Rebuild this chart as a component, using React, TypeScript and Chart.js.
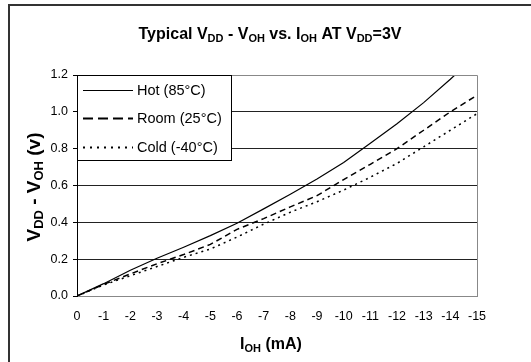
import React, { useEffect, useRef } from "react";
import { Chart, registerables } from "chart.js";

Chart.register(...registerables);

const currents = [0, 1, 2, 3, 4, 5, 6, 7, 8, 9, 10, 11, 12, 13, 14, 15];
const hot = [0, 0.067, 0.14, 0.205, 0.265, 0.328, 0.395, 0.473, 0.553, 0.635, 0.725, 0.83, 0.935, 1.05, 1.177, 1.31];
const room = [0, 0.063, 0.12, 0.175, 0.225, 0.28, 0.362, 0.42, 0.484, 0.545, 0.632, 0.715, 0.8, 0.9, 1.0, 1.09];
const cold = [0, 0.06, 0.11, 0.16, 0.21, 0.255, 0.32, 0.39, 0.455, 0.512, 0.575, 0.645, 0.72, 0.81, 0.9, 0.99];
const seriesNames = ["Hot (85°C)", "Room (25°C)", "Cold (-40°C)"];
const yTicks = [0, 0.2, 0.4, 0.6, 0.8, 1.0, 1.2];

const FONT = "'Liberation Sans', Arial, sans-serif";

type Seg = { t: string; sub?: boolean };

const titleSegs: Seg[] = [
  { t: "Typical V" }, { t: "DD", sub: true }, { t: " - V" }, { t: "OH", sub: true },
  { t: " vs. I" }, { t: "OH", sub: true }, { t: " AT V" }, { t: "DD", sub: true }, { t: "=3V" },
];
const yTitleSegs: Seg[] = [
  { t: "V" }, { t: "DD", sub: true }, { t: " - V" }, { t: "OH", sub: true }, { t: " (v)" },
];
const xTitleSegs: Seg[] = [{ t: "I" }, { t: "OH", sub: true }, { t: " (mA)" }];

function drawRich(ctx: CanvasRenderingContext2D, segs: Seg[], cx: number, baseY: number, size: number, subSize: number, subDrop: number) {
  const main = `bold ${size}px ${FONT}`;
  const sub = `bold ${subSize}px ${FONT}`;
  let total = 0;
  for (const s of segs) {
    ctx.font = s.sub ? sub : main;
    total += ctx.measureText(s.t).width;
  }
  let x = cx - total / 2;
  ctx.textAlign = "left";
  ctx.textBaseline = "alphabetic";
  ctx.fillStyle = "#000";
  for (const s of segs) {
    ctx.font = s.sub ? sub : main;
    ctx.fillText(s.t, x, s.sub ? baseY + subDrop : baseY);
    x += ctx.measureText(s.t).width;
  }
}

const decorPlugin = {
  id: "decor",
  beforeDraw(chart: any) {
    const ctx = chart.ctx as CanvasRenderingContext2D;
    ctx.save();
    ctx.fillStyle = "#fff";
    ctx.fillRect(0, 0, chart.width, chart.height);
    ctx.strokeStyle = "#333";
    ctx.lineWidth = 2;
    ctx.strokeRect(9, 5, 700, 500);
    ctx.restore();
  },
  afterDatasetsDraw(chart: any) {
    const ctx = chart.ctx as CanvasRenderingContext2D;
    const a = chart.chartArea;
    ctx.save();
    // plot border (right / top)
    ctx.strokeStyle = "#888";
    ctx.lineWidth = 1;
    ctx.beginPath();
    ctx.moveTo(a.left, a.top + 0.5);
    ctx.lineTo(a.right + 0.5, a.top + 0.5);
    ctx.lineTo(a.right + 0.5, a.bottom);
    ctx.stroke();

    // legend
    const lx = a.left + 0.5, ly = a.top + 0.5, lw = 154, lh = 85;
    ctx.fillStyle = "#fff";
    ctx.fillRect(lx, ly, lw, lh);
    ctx.strokeStyle = "#000";
    ctx.lineWidth = 1;
    ctx.setLineDash([]);
    ctx.strokeRect(lx, ly, lw, lh);
    const rows = [14, 42, 71];
    const dashes = [[], [10, 5], [2, 5]];
    const widths = [1, 2, 2];
    chart.data.datasets.forEach((ds: any, i: number) => {
      const y = ly + rows[i];
      ctx.strokeStyle = "#000";
      ctx.lineWidth = widths[i];
      ctx.setLineDash(dashes[i]);
      ctx.beginPath();
      ctx.moveTo(a.left + 6, Math.round(y) + 0.5);
      ctx.lineTo(a.left + 56, Math.round(y) + 0.5);
      ctx.stroke();
      ctx.setLineDash([]);
      ctx.fillStyle = "#000";
      ctx.font = `14.5px ${FONT}`;
      ctx.textAlign = "left";
      ctx.textBaseline = "middle";
      ctx.fillText(ds.label, a.left + 60, y + 1);
    });

    // titles
    drawRich(ctx, titleSegs, 270, 39, 16, 11, 3);
    drawRich(ctx, xTitleSegs, 271, 349, 16, 11, 3);
    ctx.save();
    ctx.translate(40, 187);
    ctx.rotate(-Math.PI / 2);
    drawRich(ctx, yTitleSegs, 0, 0, 19, 13, 3);
    ctx.restore();
    ctx.restore();
  },
};

export default function App() {
  const ref = useRef<HTMLCanvasElement | null>(null);
  useEffect(() => {
    if (!ref.current) return;
    const mk = (vals: number[]) => currents.map((c, i) => ({ x: c, y: vals[i] }));
    const chart = new Chart(ref.current, {
      type: "line",
      data: {
        datasets: [
          { label: seriesNames[0], data: mk(hot), borderColor: "#000", borderWidth: 1.2, pointRadius: 0, fill: false },
          { label: seriesNames[1], data: mk(room), borderColor: "#000", borderWidth: 1.5, borderDash: [6, 4], pointRadius: 0, fill: false },
          { label: seriesNames[2], data: mk(cold), borderColor: "#000", borderWidth: 1.5, borderDash: [2, 4], pointRadius: 0, fill: false },
        ],
      },
      options: {
        animation: false,
        responsive: false,
        devicePixelRatio: 1,
        layout: { padding: { top: 75, left: 0, right: 54, bottom: 0 } },
        plugins: { legend: { display: false }, title: { display: false }, tooltip: { enabled: false } },
        scales: {
          x: {
            type: "linear",
            min: 0,
            max: 15,
            afterFit: (s: any) => { s.height = 66; },
            ticks: {
              stepSize: 1,
              padding: 13,
              color: "#000",
              font: { family: FONT, size: 12.5 },
              callback: (v: any) => (v === 0 ? "0" : "-" + v),
            },
            grid: { display: false, drawTicks: false },
            border: { display: true, color: "#888", width: 1 },
          },
          y: {
            min: 0,
            max: 1.2,
            afterFit: (s: any) => { s.width = 77; },
            afterBuildTicks: (s: any) => { s.ticks = yTicks.map((v) => ({ value: v })); },
            ticks: {
              padding: 5,
              color: "#000",
              font: { family: FONT, size: 12.5 },
              callback: (v: any) => Number(v).toFixed(1),
            },
            grid: {
              color: (c: any) => (c.tick && (c.tick.value === 0 || c.tick.value === 1.2) ? "#888" : "#222"),
              tickLength: 4,
              tickColor: "#000",
              lineWidth: 1,
            },
            border: { display: true, color: "#000", width: 1 },
          },
        },
      },
      plugins: [decorPlugin],
    });
    return () => chart.destroy();
  }, []);
  return (
    <div style={{ position: "fixed", left: 0, top: 0, width: 531, height: 362, background: "#fff" }}>
      <canvas ref={ref} width={531} height={362} style={{ display: "block", width: 531, height: 362 }} />
    </div>
  );
}
